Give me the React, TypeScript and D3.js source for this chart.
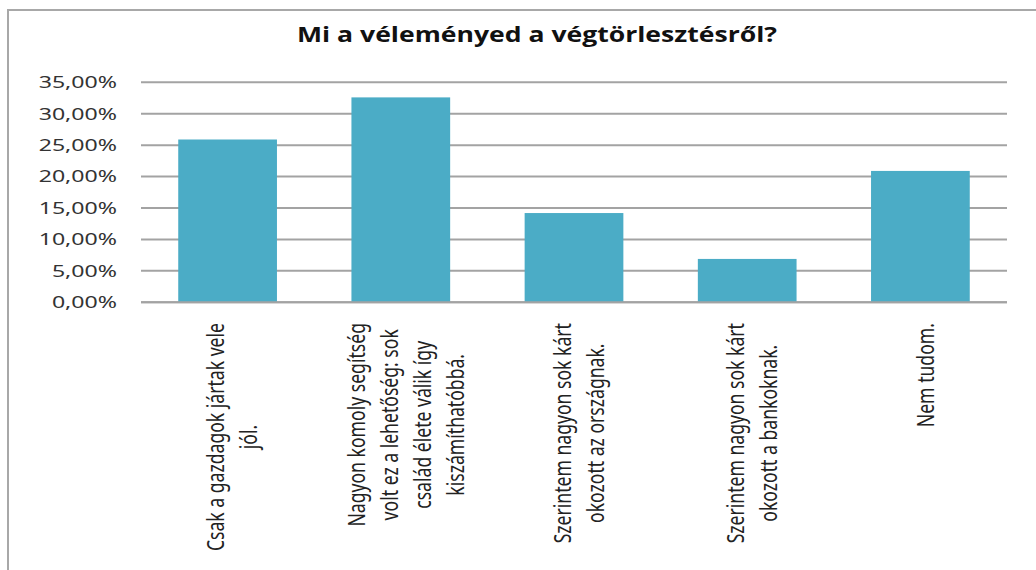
import React, { useEffect, useRef } from "react";
import * as d3 from "d3";

const TITLE = "Mi a véleményed a végtörlesztésről?";
const CATEGORY_LINES: string[][] = [
  ["Csak a gazdagok jártak vele", "jól."],
  ["Nagyon komoly segítség", "volt ez a lehetőség: sok", "család élete válik így", "kiszámíthatóbbá."],
  ["Szerintem nagyon sok kárt", "okozott az országnak."],
  ["Szerintem nagyon sok kárt", "okozott a bankoknak."],
  ["Nem tudom."],
];
const CATEGORIES = CATEGORY_LINES.map((l) => l.join(" "));
const VALUES = [0.259, 0.326, 0.142, 0.069, 0.209];
const Y_TICKS = [0, 0.05, 0.1, 0.15, 0.2, 0.25, 0.3, 0.35];

const W = 1036;
const H = 570;
const PLOT = { left: 141, right: 1007, top: 82.3, bottom: 302.3 };
const BAR_COLOR = "#4bacc6";
const GRID_COLOR = "#a3a3a3";
const SX = 1.32;

export default function App() {
  const ref = useRef<SVGSVGElement | null>(null);

  useEffect(() => {
    const svg = d3.select(ref.current);
    svg.selectAll("*").remove();

    const x = d3
      .scaleBand<string>()
      .domain(CATEGORIES)
      .range([PLOT.left, PLOT.right])
      .paddingInner(0.43)
      .paddingOuter(0.215);
    const y = d3.scaleLinear().domain([0, 0.35]).range([PLOT.bottom, PLOT.top]);

    // frame
    svg.append("rect").attr("width", W).attr("height", H).attr("fill", "#fff");
    svg
      .append("path")
      .attr("d", `M8,${H} L8,10 L${W},10`)
      .attr("fill", "none")
      .attr("stroke", "#a8a8a8")
      .attr("stroke-width", 2);

    // title
    svg
      .append("text")
      .attr("x", 297)
      .attr("y", 42)
      .attr("font-family", "'Open Sans', 'Noto Sans', sans-serif")
      .attr("font-weight", 700)
      .attr("font-size", 21)
      .attr("fill", "#111")
      .attr("textLength", 480)
      .attr("lengthAdjust", "spacingAndGlyphs")
      .text(TITLE);

    // gridlines
    svg
      .append("g")
      .selectAll("line")
      .data(Y_TICKS)
      .join("line")
      .attr("x1", PLOT.left)
      .attr("x2", PLOT.right)
      .attr("y1", (d) => y(d))
      .attr("y2", (d) => y(d))
      .attr("stroke", GRID_COLOR)
      .attr("stroke-width", 2);

    // y tick labels
    const fmt = (d: number) => (d * 100).toFixed(2).replace(".", ",") + "%";
    svg
      .append("g")
      .selectAll("text")
      .data(Y_TICKS)
      .join("text")
      .attr("transform", (d) => `translate(117,${y(d) + 5.8}) scale(1.42,1)`)
      .attr("text-anchor", "end")
      .attr("font-family", "'Noto Sans', sans-serif")
      .attr("font-size", 16.3)
      .attr("fill", "#333")
      .text(fmt);

    // bars
    svg
      .append("g")
      .selectAll("rect")
      .data(VALUES)
      .join("rect")
      .attr("x", (_, i) => x(CATEGORIES[i])!)
      .attr("width", x.bandwidth())
      .attr("y", (d) => y(d))
      .attr("height", (d) => y(0) - y(d))
      .attr("fill", BAR_COLOR);

    // axis line at zero
    svg
      .append("line")
      .attr("x1", PLOT.left)
      .attr("x2", PLOT.right)
      .attr("y1", y(0))
      .attr("y2", y(0))
      .attr("stroke", GRID_COLOR)
      .attr("stroke-width", 2);

    // category labels (rotated)
    const fontSize = 17.6;
    const lineGap = 33 / SX;
    const top = 323;
    CATEGORY_LINES.forEach((lines, i) => {
      const cx = x(CATEGORIES[i])! + x.bandwidth() / 2 + 5;
      const g = svg.append("g");
      const texts = g
        .selectAll("text")
        .data(lines)
        .join("text")
        .attr("text-anchor", "middle")
        .attr("font-family", "'Noto Sans', sans-serif")
        .attr("font-size", fontSize)
        .attr("fill", "#222")
        .attr("x", 0)
        .attr("y", (_, j) => (j - (lines.length - 1) / 2) * lineGap + fontSize * 0.36)
        .text((d) => d);
      let maxLen = 0;
      texts.each(function () {
        maxLen = Math.max(maxLen, (this as SVGTextElement).getComputedTextLength());
      });
      g.attr("transform", `translate(${cx},${top + maxLen / 2}) scale(${SX},1) rotate(-90)`);
    });
  }, []);

  return (
    <svg
      ref={ref}
      width={W}
      height={H}
      style={{ position: "absolute", left: 0, top: 0, display: "block" }}
    />
  );
}
